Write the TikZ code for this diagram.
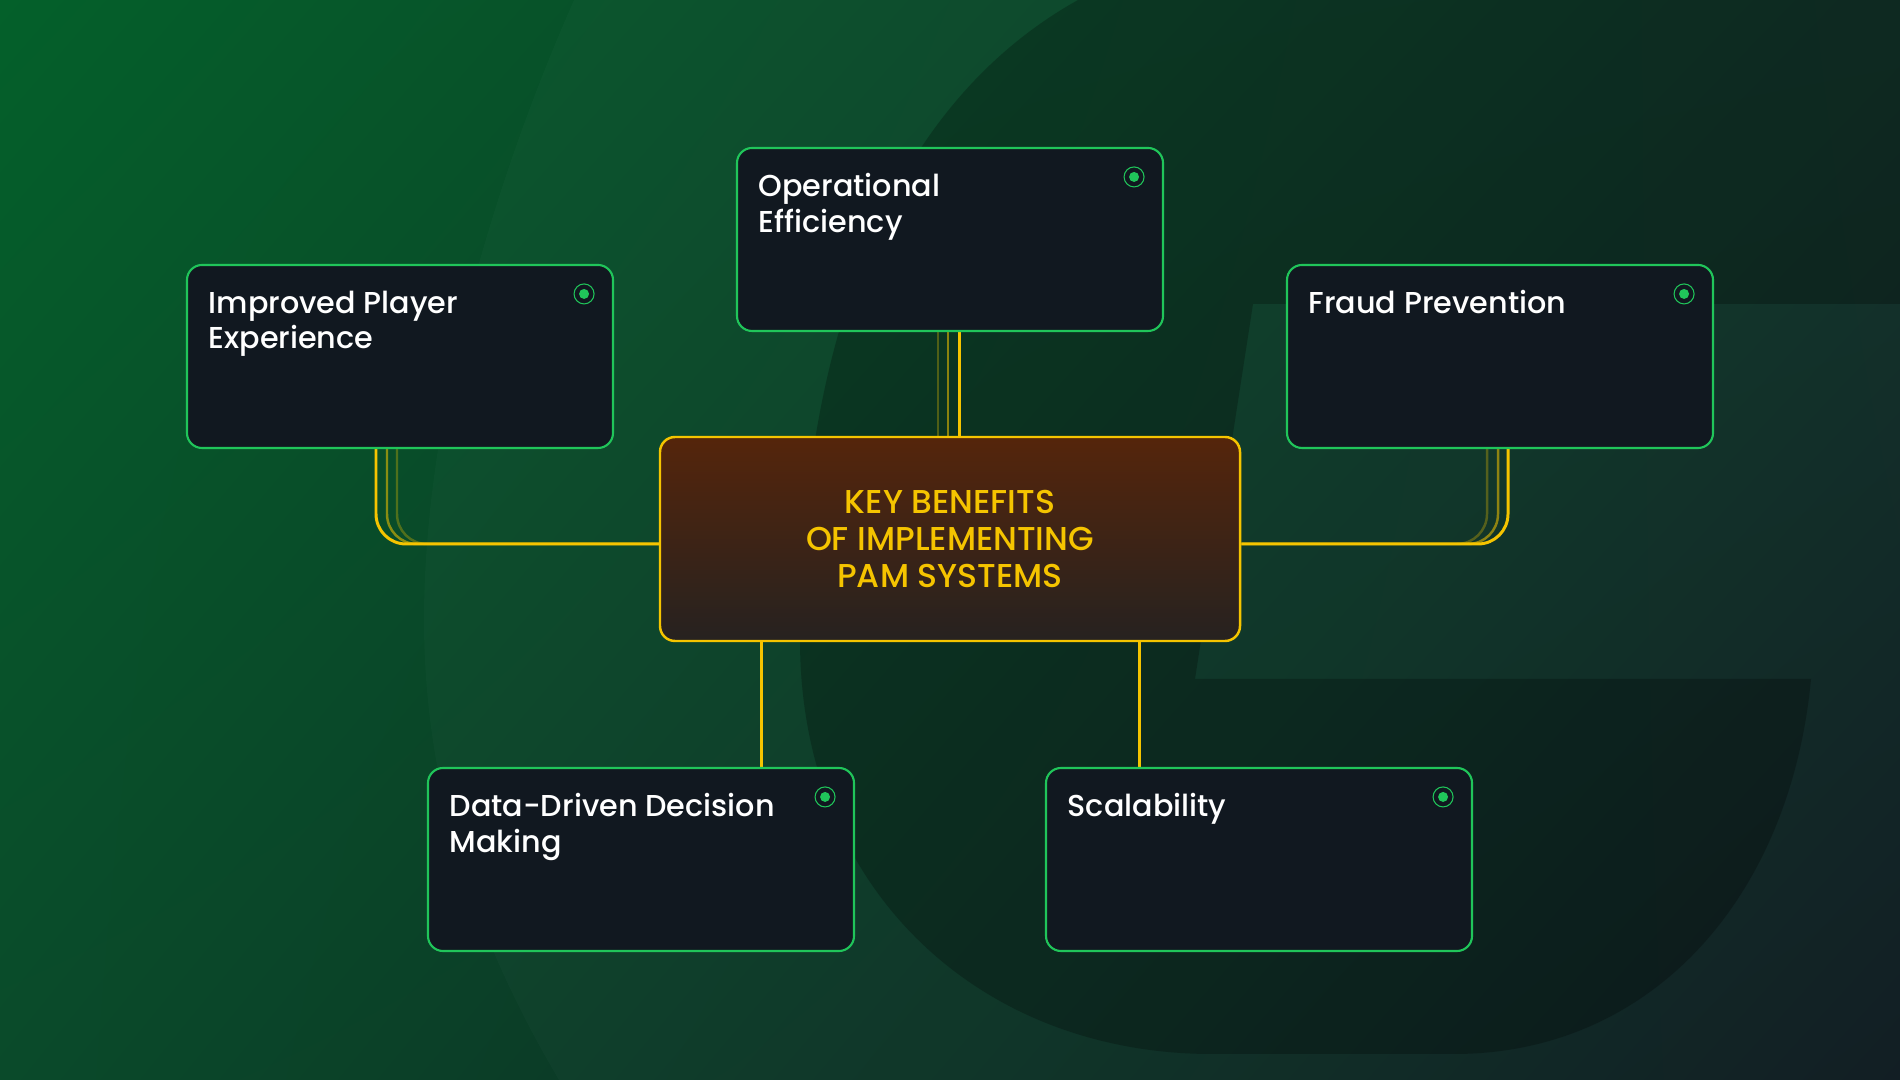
\documentclass[tikz,border=0pt]{standalone}
\usepackage{fontspec}
\newfontfamily\cardfont{Poppins Medium}
\usetikzlibrary{positioning,calc,backgrounds,shadings}

\definecolor{bgtl}{HTML}{04602A}
\definecolor{bgtr}{HTML}{0F3328}
\definecolor{bgbl}{HTML}{0A4A2A}
\definecolor{bgbr}{HTML}{0E1A20}
\definecolor{cardgreen}{HTML}{20C55A}
\definecolor{cardfill}{HTML}{111820}
\definecolor{linkyellow}{HTML}{F5C400}
\definecolor{hubtop}{HTML}{55250B}
\definecolor{hubbottom}{HTML}{262220}

\begin{document}
\begin{tikzpicture}[
		card/.style={rectangle, rounded corners=0.15cm, draw=cardgreen, line width=0.6pt, fill=cardfill, minimum width=4.26cm, minimum height=1.83cm},
		cardtext/.style={anchor=north west, inner sep=0pt, align=left, text=white, font=\cardfont\fontsize{8.6}{10.2}\selectfont},
		hub/.style={rectangle, rounded corners=0.15cm, draw=linkyellow, line width=0.7pt, top color=hubtop, bottom color=hubbottom, minimum width=5.8cm, minimum height=2.04cm, align=center, text=linkyellow, font=\cardfont\fontsize{9.4}{10.4}\selectfont},
		dot/.style={circle, draw=cardgreen, line width=0.3pt, minimum size=0.2cm, inner sep=0pt, path picture={\fill[cardgreen] (path picture bounding box.center) circle (0.05cm);}},
		link/.style={draw=linkyellow, line width=0.85pt, rounded corners=0.3cm},
		linkmid/.style={link, draw opacity=0.55, line width=0.7pt},
		linkfaint/.style={link, draw opacity=0.3, line width=0.7pt}
		]
		\useasboundingbox (0,0) rectangle (19,10.8);

		% central hub and the five benefit cards
		\node[hub] (hub) at (9.50,5.41) {KEY BENEFITS\\OF IMPLEMENTING\\PAM SYSTEMS};
		\node[card] (op) at (9.50,8.405) {};
		\node[card] (pl) at (4.00,7.235) {};
		\node[card] (fp) at (15.00,7.235) {};
		\node[card] (dd) at (6.41,2.205) {};
		\node[card] (sc) at (12.59,2.205) {};

		% card titles
		\node[cardtext] (optext) at ($(op.north west)+(0.22,-0.26)$) {Operational\\Efficiency};
		\node[cardtext] (pltext) at ($(pl.north west)+(0.22,-0.26)$) {Improved Player\\Experience};
		\node[cardtext] (fptext) at ($(fp.north west)+(0.22,-0.26)$) {Fraud Prevention};
		\node[cardtext] (ddtext) at ($(dd.north west)+(0.22,-0.26)$) {Data-Driven Decision\\Making};
		\node[cardtext] (sctext) at ($(sc.north west)+(0.22,-0.26)$) {Scalability};

		% status dots
		\node[dot] (opdot) at ($(op.north east)+(-0.30,-0.30)$) {};
		\node[dot] (pldot) at ($(pl.north east)+(-0.30,-0.30)$) {};
		\node[dot] (fpdot) at ($(fp.north east)+(-0.30,-0.30)$) {};
		\node[dot] (dddot) at ($(dd.north east)+(-0.30,-0.30)$) {};
		\node[dot] (scdot) at ($(sc.north east)+(-0.30,-0.30)$) {};

		\begin{scope}[on background layer]
			% background with the big letter
			\shade[upper left=bgtl, upper right=bgtr, lower left=bgbl, lower right=bgbr] (0,0) rectangle (19,10.8);
			\fill[white, opacity=0.02] (5.74,10.8) .. controls (4.9,8.9) and (4.24,6.6) .. (4.24,4.6)
				.. controls (4.24,3.0) and (4.7,1.5) .. (5.59,0) -- (19,0) -- (19,10.8) -- cycle;
			\fill[black, opacity=0.24] (10.78,10.8) .. controls (8.1,9.3) and (8.0,5.55) .. (8.0,4.4)
				.. controls (8.0,1.9) and (9.8,0.26) .. (12.12,0.26) -- (14.54,0.26)
				.. controls (16.5,0.26) and (17.9,1.8) .. (18.11,4.01) -- (11.95,4.01) -- (12.53,7.76)
				-- (19,7.76) -- (19,10.8) -- cycle;

			% connectors
			\draw[linkfaint] ($(op.south)+(-0.12,0)$) -- ($(op.south |- hub.north)+(-0.12,0)$);
			\draw[linkmid] ($(op.south)+(-0.02,0)$) -- ($(op.south |- hub.north)+(-0.02,0)$);
			\draw[link] ($(op.south)+(0.09,0)$) -- ($(op.south |- hub.north)+(0.09,0)$);

			\draw[linkfaint] ($(pl.south)+(-0.03,0)$) |- ($(hub.west)+(0,-0.05)$);
			\draw[linkmid] ($(pl.south)+(-0.13,0)$) |- ($(hub.west)+(0,-0.05)$);
			\draw[link] ($(pl.south)+(-0.24,0)$) |- ($(hub.west)+(0,-0.05)$);

			\draw[linkfaint] ($(fp.south)+(-0.13,0)$) |- ($(hub.east)+(0,-0.05)$);
			\draw[linkmid] ($(fp.south)+(-0.02,0)$) |- ($(hub.east)+(0,-0.05)$);
			\draw[link] ($(fp.south)+(0.08,0)$) |- ($(hub.east)+(0,-0.05)$);

			\draw[link] ($(hub.south)+(-1.89,0)$) -- ($(hub.south |- dd.north)+(-1.89,0)$);
			\draw[link] ($(hub.south)+(1.89,0)$) -- ($(hub.south |- sc.north)+(1.89,0)$);
		\end{scope}
	\end{tikzpicture}
\end{document}
